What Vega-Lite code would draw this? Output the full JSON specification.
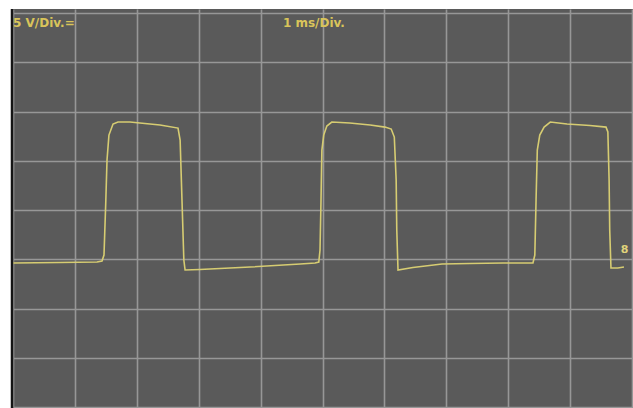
{
  "$schema": "https://vega.github.io/schema/vega-lite/v6.json",
  "width": 621,
  "height": 399,
  "autosize": {"type": "none"},
  "padding": {"left": 12, "top": 9, "right": 0, "bottom": 0},
  "background": "#ffffff",
  "view": {"fill": "#5a5a5a", "stroke": null},
  "config": {
    "axis": {"domain": false, "ticks": false, "labels": false, "title": null, "grid": true, "gridColor": "#979797", "gridWidth": 1.6, "gridOpacity": 1}
  },
  "datasets": {
    "trace": [
      {"t": 0.0, "v": -5.38}, {"t": 0.76, "v": -5.33}, {"t": 1.357, "v": -5.28}, {"t": 1.438, "v": -5.18},
      {"t": 1.47, "v": -4.57}, {"t": 1.5, "v": 1.02}, {"t": 1.519, "v": 5.08}, {"t": 1.55, "v": 7.61},
      {"t": 1.616, "v": 8.73}, {"t": 1.696, "v": 8.93}, {"t": 1.89, "v": 8.93}, {"t": 2.05, "v": 8.83},
      {"t": 2.375, "v": 8.63}, {"t": 2.666, "v": 8.32}, {"t": 2.7, "v": 7.1}, {"t": 2.73, "v": 1.02},
      {"t": 2.76, "v": -5.08}, {"t": 2.78, "v": -6.09}, {"t": 3.02, "v": -6.04}, {"t": 3.83, "v": -5.79},
      {"t": 4.64, "v": -5.48}, {"t": 4.88, "v": -5.38}, {"t": 4.94, "v": -5.28}, {"t": 4.96, "v": -4.06},
      {"t": 4.976, "v": 1.02}, {"t": 4.99, "v": 6.09}, {"t": 5.02, "v": 7.61}, {"t": 5.07, "v": 8.53},
      {"t": 5.15, "v": 8.93}, {"t": 5.44, "v": 8.83}, {"t": 5.77, "v": 8.63}, {"t": 6.01, "v": 8.42},
      {"t": 6.11, "v": 8.22}, {"t": 6.16, "v": 7.41}, {"t": 6.19, "v": 3.05}, {"t": 6.2, "v": -2.03},
      {"t": 6.22, "v": -6.09}, {"t": 6.46, "v": -5.84}, {"t": 6.93, "v": -5.48}, {"t": 7.38, "v": -5.43},
      {"t": 7.92, "v": -5.38}, {"t": 8.4, "v": -5.38}, {"t": 8.43, "v": -4.57}, {"t": 8.45, "v": 1.02},
      {"t": 8.47, "v": 6.09}, {"t": 8.51, "v": 7.61}, {"t": 8.58, "v": 8.42}, {"t": 8.68, "v": 8.93},
      {"t": 8.95, "v": 8.73}, {"t": 9.32, "v": 8.58}, {"t": 9.58, "v": 8.42}, {"t": 9.61, "v": 7.92},
      {"t": 9.63, "v": 3.05}, {"t": 9.64, "v": -2.03}, {"t": 9.66, "v": -5.89}, {"t": 9.77, "v": -5.89},
      {"t": 9.87, "v": -5.79}
    ],
    "labels": [
      {"t": 0.0, "v": 19.0, "label": "5 V/Div.="},
      {"t": 4.36, "v": 19.0, "label": "1 ms/Div."}
    ],
    "marker": [
      {"t": 9.82, "v": -4.1, "label": "8"}
    ],
    "edge": [
      {"t": -0.016}
    ]
  },
  "encoding": {
    "x": {"field": "t", "type": "quantitative", "scale": {"domain": [-0.016, 10.016], "nice": false, "zero": false},
          "axis": {"values": [0, 1, 2, 3, 4, 5, 6, 7, 8, 9, 10]}},
    "y": {"field": "v", "type": "quantitative", "scale": {"domain": [-20.1, 20.41], "nice": false, "zero": false},
          "axis": {"values": [-20, -15, -10, -5, 0, 5, 10, 15, 20]}}
  },
  "layer": [
    {
      "data": {"name": "trace"},
      "mark": {"type": "line", "color": "#d6cc72", "strokeWidth": 1.6, "interpolate": "linear"}
    },
    {
      "data": {"name": "labels"},
      "mark": {"type": "text", "align": "left", "baseline": "middle", "font": "DejaVu Sans", "fontSize": 12, "fontWeight": "bold", "color": "#d9c45a"},
      "encoding": {"text": {"field": "label"}}
    },
    {
      "data": {"name": "marker"},
      "mark": {"type": "text", "align": "left", "baseline": "middle", "font": "DejaVu Sans", "fontSize": 11, "fontWeight": "bold", "color": "#e0d47a"},
      "encoding": {"text": {"field": "label"}}
    },
    {
      "data": {"name": "edge"},
      "mark": {"type": "rule", "color": "#151515", "strokeWidth": 2.5},
      "encoding": {"y": null}
    }
  ]
}
